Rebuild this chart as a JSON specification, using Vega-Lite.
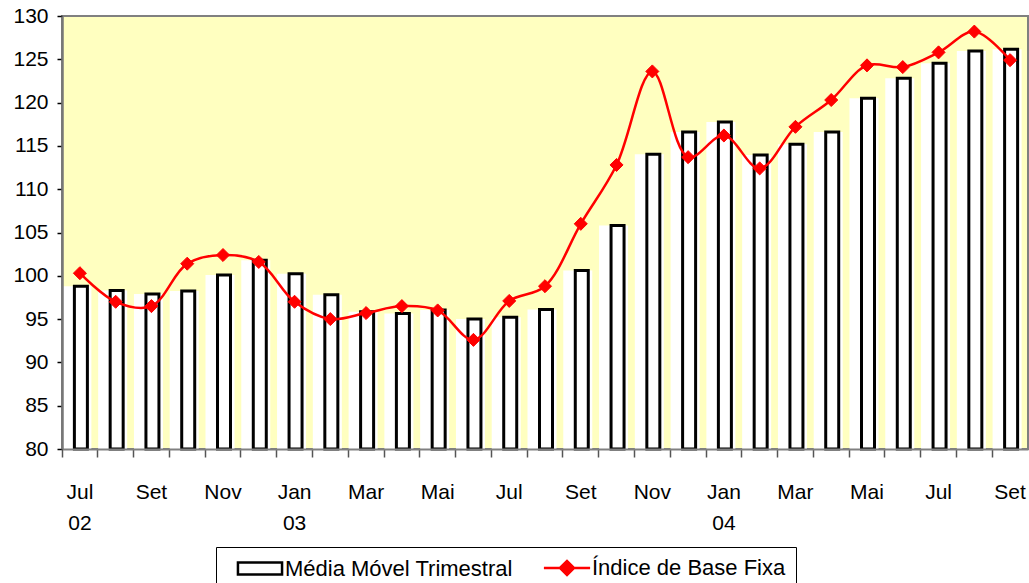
{
  "$schema": "https://vega.github.io/schema/vega-lite/v6.json",
  "width": 966,
  "height": 433,
  "autosize": {"type": "none"},
  "padding": {"left": 62, "top": 16, "right": 1, "bottom": 134},
  "background": "#FFFFFF",
  "config": {
    "font": "Liberation Sans",
    "view": {"stroke": "#808080", "strokeWidth": 2, "fill": "#FFFFC0"},
    "axis": {"labelFont": "Liberation Sans", "labelColor": "#000000", "grid": false}
  },
  "data": {
    "values": [
      {"mes": "Jul 02", "media": 98.8, "indice": 100.3},
      {"mes": "Ago 02", "media": 98.3, "indice": 97.0},
      {"mes": "Set 02", "media": 97.9, "indice": 96.5},
      {"mes": "Out 02", "media": 98.25, "indice": 101.4},
      {"mes": "Nov 02", "media": 100.1, "indice": 102.4},
      {"mes": "Dez 02", "media": 101.8, "indice": 101.6},
      {"mes": "Jan 03", "media": 100.25, "indice": 97.0},
      {"mes": "Fev 03", "media": 97.8, "indice": 95.0},
      {"mes": "Mar 03", "media": 95.85, "indice": 95.7},
      {"mes": "Abr 03", "media": 95.65, "indice": 96.5},
      {"mes": "Mai 03", "media": 96.05, "indice": 96.0},
      {"mes": "Jun 03", "media": 95.0, "indice": 92.6},
      {"mes": "Jul 03", "media": 95.2, "indice": 97.1},
      {"mes": "Ago 03", "media": 96.1, "indice": 98.8},
      {"mes": "Set 03", "media": 100.6, "indice": 106.0},
      {"mes": "Out 03", "media": 105.8, "indice": 112.8},
      {"mes": "Nov 03", "media": 114.05, "indice": 123.6},
      {"mes": "Dez 03", "media": 116.6, "indice": 113.7},
      {"mes": "Jan 04", "media": 117.75, "indice": 116.2},
      {"mes": "Fev 04", "media": 113.95, "indice": 112.4},
      {"mes": "Mar 04", "media": 115.2, "indice": 117.2},
      {"mes": "Abr 04", "media": 116.6, "indice": 120.3},
      {"mes": "Mai 04", "media": 120.5, "indice": 124.3},
      {"mes": "Jun 04", "media": 122.8, "indice": 124.1},
      {"mes": "Jul 04", "media": 124.55, "indice": 125.8},
      {"mes": "Ago 04", "media": 125.95, "indice": 128.2},
      {"mes": "Set 04", "media": 126.15, "indice": 124.9}
    ]
  },
  "encoding": {
    "x": {
      "field": "mes",
      "type": "ordinal",
      "sort": null,
      "scale": {"type": "band", "paddingInner": 0, "paddingOuter": 0},
      "axis": {
        "title": null,
        "labelExpr": "datum.value == 'Jul 02' ? ['Jul', '02'] : datum.value == 'Jan 03' ? ['Jan', '03'] : datum.value == 'Jan 04' ? ['Jan', '04'] : (datum.value == 'Set 02' || datum.value == 'Set 03' || datum.value == 'Set 04') ? 'Set' : (datum.value == 'Nov 02' || datum.value == 'Nov 03') ? 'Nov' : (datum.value == 'Mar 03' || datum.value == 'Mar 04') ? 'Mar' : (datum.value == 'Mai 03' || datum.value == 'Mai 04') ? 'Mai' : (datum.value == 'Jul 03' || datum.value == 'Jul 04') ? 'Jul' : ''",
        "labelAngle": 0,
        "labelFontSize": 21,
        "labelLineHeight": 31,
        "labelPadding": 24,
        "labelBaseline": "top",
        "labelOverlap": false,
        "labelFlush": false,
        "bandPosition": 0,
        "tickSize": 8,
        "tickColor": "#555555",
        "tickWidth": 1.5,
        "domainColor": "#808080",
        "domainWidth": 2,
        "zindex": 1
      }
    }
  },
  "layer": [
    {
      "mark": {"type": "bar", "fill": "#FFFFFF", "width": 29, "xOffset": -3},
      "encoding": {
        "y": {"field": "media", "type": "quantitative", "scale": {"domain": [80, 130], "zero": false, "nice": false},
          "axis": {
            "title": null,
            "values": [80, 85, 90, 95, 100, 105, 110, 115, 120, 125, 130],
            "labelFontSize": 21,
            "labelPadding": 9,
            "tickSize": 5,
            "tickColor": "#000000",
            "tickWidth": 1.5,
            "domainColor": "#777777",
            "domainWidth": 2.5,
            "zindex": 1
          }
        },
        "y2": {"datum": 80}
      }
    },
    {
      "mark": {"type": "bar", "width": 13, "xOffset": 1, "fill": "#FFFFFF", "strokeWidth": 3},
      "encoding": {
        "y": {"field": "media", "type": "quantitative"},
        "y2": {"datum": 80},
        "stroke": {
          "datum": "Média Móvel Trimestral",
          "scale": {"domain": ["Média Móvel Trimestral", "Índice de Base Fixa"], "range": ["#000000", "#FF0000"]},
          "legend": {
            "title": null,
            "orient": "none",
            "direction": "horizontal",
            "legendX": 154,
            "legendY": 531,
            "padding": 10,
            "strokeColor": "#000000",
            "fillColor": "#FFFFFF",
            "symbolSize": 196,
            "symbolOffset": 23,
            "labelOffset": 14,
            "columnPadding": 20,
            "labelLimit": 500,
            "labelFont": "Liberation Sans",
            "labelFontSize": 22,
            "labelColor": "#000000",
            "symbolStrokeWidth": 2.5,
            "symbolOpacity": 1,
            "symbolType": {"expr": "datum.value == 'Índice de Base Fixa' ? 'M-3.3,0H3.3M-1,0L0,-1L1,0L0,1ZM-0.72,0L0,-0.72L0.72,0L0,0.72ZM-0.45,0L0,-0.45L0.45,0L0,0.45ZM-0.2,0L0,-0.2L0.2,0L0,0.2Z' : 'M-3.15,-0.85H3.15V0.85H-3.15Z'"},
            "symbolFillColor": {"expr": "datum.value == 'Índice de Base Fixa' ? '#FF0000' : '#FFFFFF'"},
            "encode": {
              "symbols": {
                "shape": {"condition": {"test": "datum.value == 'Índice de Base Fixa'", "value": "M-3.3,0H3.3M-1,0L0,-1L1,0L0,1ZM-0.72,0L0,-0.72L0.72,0L0,0.72ZM-0.45,0L0,-0.45L0.45,0L0,0.45ZM-0.2,0L0,-0.2L0.2,0L0,0.2Z"}, "value": "M-3.15,-0.85H3.15V0.85H-3.15Z"},
                "fill": {"condition": {"test": "datum.value == 'Índice de Base Fixa'", "value": "#FF0000"}, "value": "#FFFFFF"}
              }
            }
          }
        }
      }
    },
    {
      "mark": {"type": "line", "interpolate": "catmull-rom", "strokeWidth": 2.5},
      "encoding": {
        "y": {"field": "indice", "type": "quantitative"},
        "stroke": {"datum": "Índice de Base Fixa"}
      }
    },
    {
      "mark": {"type": "point", "shape": "diamond", "filled": true, "fill": "#FF0000", "strokeWidth": 1, "size": 170, "opacity": 1},
      "encoding": {
        "y": {"field": "indice", "type": "quantitative"},
        "stroke": {"datum": "Índice de Base Fixa"}
      }
    }
  ]
}
